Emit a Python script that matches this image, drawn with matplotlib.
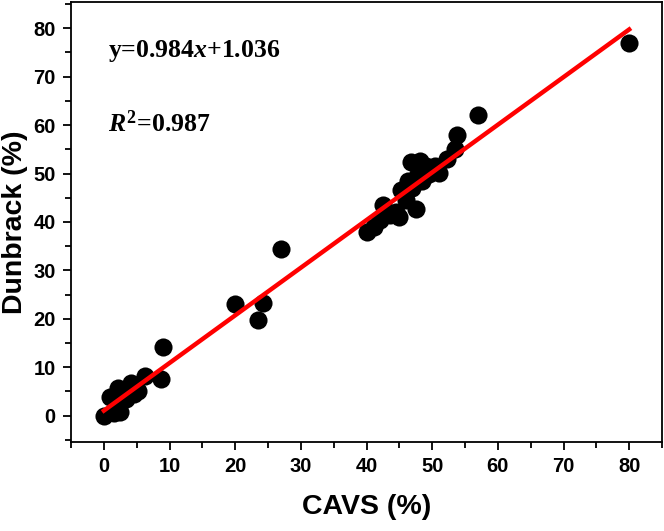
import numpy as np
import matplotlib
matplotlib.use("Agg")
import matplotlib.pyplot as plt
from matplotlib.ticker import MultipleLocator

# CAVS vs Dunbrack (%)
cavs = [0.0, 1.0, 1.5, 2.0, 2.5, 2.2, 2.8, 3.3, 4.2, 4.6, 5.2, 6.3, 8.7, 9.0,
        20.0, 24.2, 23.5, 27.0,
        40.0, 41.2, 42.0, 42.5, 43.5, 44.5, 45.0, 45.3, 46.0, 46.3, 46.8, 47.0,
        47.6, 47.8, 48.2, 48.5, 49.0, 49.5, 50.5, 51.0, 52.3, 53.5, 53.8, 57.0,
        80.0]
dunbrack = [0.0, 3.8, 0.5, 1.0, 0.7, 5.8, 5.0, 3.5, 6.8, 4.5, 5.0, 8.2, 7.6, 14.2,
            23.0, 23.2, 19.8, 34.5,
            38.0, 39.0, 40.5, 43.5, 41.5, 42.0, 41.0, 46.5, 44.5, 48.5, 52.3, 47.0,
            42.6, 50.0, 52.5, 48.5, 51.5, 50.0, 51.5, 50.2, 53.0, 55.0, 58.0, 62.0,
            77.0]

slope = 0.984
intercept = 1.036
r2 = 0.987
fit_x = np.array([0.0, 80.0])

plt.rcParams["mathtext.fontset"] = "custom"
plt.rcParams["mathtext.rm"] = "Liberation Serif:bold"
plt.rcParams["mathtext.it"] = "Liberation Serif:bold:italic"
plt.rcParams["mathtext.bf"] = "Liberation Serif:bold"

fig = plt.figure(figsize=(6.64, 5.31), dpi=100)
ax = fig.add_axes([0.107, 0.168, 0.890, 0.828])

ax.scatter(cavs, dunbrack, s=170, color="black", zorder=2, linewidths=0)
ax.plot(fit_x, slope * fit_x + intercept, color="#ff0000", linewidth=3.2, zorder=3)

ax.set_xlim(-5, 85)
ax.set_ylim(-5.4, 85.4)
ax.xaxis.set_major_locator(MultipleLocator(10))
ax.xaxis.set_minor_locator(MultipleLocator(5))
ax.yaxis.set_major_locator(MultipleLocator(10))
ax.yaxis.set_minor_locator(MultipleLocator(5))

for s in ax.spines.values():
    s.set_linewidth(1.3)
ax.tick_params(which="major", direction="out", length=6, width=1.3,
               labelsize=14.5, pad=5)
ax.tick_params(which="minor", direction="out", length=4, width=1.3)
for lab in ax.get_xticklabels() + ax.get_yticklabels():
    lab.set_fontweight("bold")
    lab.set_family("Liberation Sans")

ax.set_xlabel("CAVS (%)", fontsize=20.5, fontweight="bold",
              family="Liberation Sans", labelpad=13)
ax.set_ylabel("Dunbrack (%)", fontsize=20.5, fontweight="bold",
              family="Liberation Sans", labelpad=4)

ax.text(0.6, 75.3, f"y={slope}$x$+{intercept}", fontsize=18.5,
        fontweight="bold", family="Liberation Serif", va="center")
ax.text(0.6, 60.3, r"$R^{\mathrm{2}}$" + f"={r2}", fontsize=18.5,
        fontweight="bold", family="Liberation Serif", va="center")

fig.savefig("out.png", dpi=100)
